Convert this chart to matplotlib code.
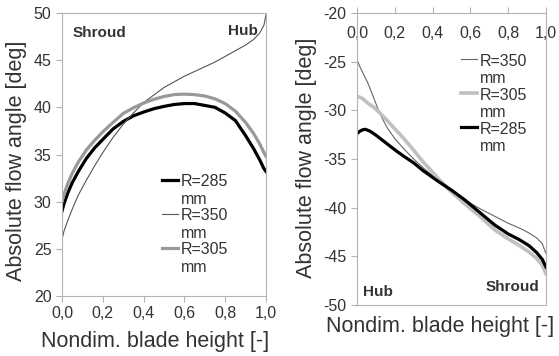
import matplotlib
matplotlib.use("Agg")
import matplotlib.pyplot as plt
from matplotlib.ticker import FuncFormatter

plt.rcParams["font.family"] = ["Liberation Sans", "DejaVu Sans"]
plt.rcParams["axes.unicode_minus"] = False

# Rotor inlet (left) - nondimensional blade height vs. absolute flow angle
in_h_285 = [0, 0.01, 0.03, 0.05, 0.08, 0.12, 0.16, 0.2, 0.25, 0.3, 0.35, 0.4, 0.45,
            0.5, 0.55, 0.6, 0.65, 0.7, 0.75, 0.8, 0.85, 0.9, 0.94, 0.97, 0.99, 1.0]
in_a_285 = [29.0, 29.8, 31.0, 32.0, 33.2, 34.6, 35.7, 36.6, 37.7, 38.5, 39.1, 39.5, 39.85,
            40.1, 40.3, 40.4, 40.4, 40.2, 40.0, 39.4, 38.6, 37.0, 35.6, 34.4, 33.5, 33.2]

in_h_350 = [0, 0.01, 0.025, 0.05, 0.08, 0.12, 0.16, 0.2, 0.25, 0.3, 0.35, 0.4, 0.45,
            0.5, 0.55, 0.6, 0.65, 0.7, 0.75, 0.8, 0.85, 0.9, 0.94, 0.97, 0.99, 1.0]
in_a_350 = [26.0, 26.9, 27.8, 29.2, 30.7, 32.3, 33.8, 35.2, 36.8, 38.2, 39.4, 40.5, 41.3,
            42.1, 42.7, 43.3, 43.8, 44.3, 44.8, 45.4, 46.0, 46.6, 47.2, 47.9, 48.7, 49.8]

in_h_305 = [0, 0.01, 0.03, 0.05, 0.08, 0.12, 0.16, 0.2, 0.25, 0.3, 0.35, 0.4, 0.45,
            0.5, 0.55, 0.6, 0.65, 0.7, 0.75, 0.8, 0.85, 0.9, 0.94, 0.97, 0.99, 1.0]
in_a_305 = [30.0, 30.8, 32.0, 33.0, 34.2, 35.5, 36.5, 37.4, 38.4, 39.35, 39.95, 40.45, 40.85,
            41.15, 41.35, 41.4, 41.35, 41.2, 40.9, 40.4, 39.6, 38.4, 37.2, 36.1, 35.2, 34.8]

# Rotor outlet (right)
out_h_350 = [0, 0.015, 0.03, 0.06, 0.09, 0.12, 0.16, 0.2, 0.25, 0.3, 0.35, 0.43,
             0.5, 0.57, 0.65, 0.73, 0.8, 0.86, 0.91, 0.95, 0.98, 1.0]
out_a_350 = [-24.8, -25.5, -26.1, -27.3, -28.8, -30.3, -31.8, -32.9, -34.0, -35.0, -35.9, -37.2,
             -38.2, -39.2, -40.1, -40.9, -41.6, -42.1, -42.6, -43.1, -43.7, -44.7]

out_h_305 = [0, 0.015, 0.03, 0.06, 0.09, 0.12, 0.16, 0.2, 0.25, 0.3, 0.35, 0.43,
             0.5, 0.57, 0.65, 0.73, 0.8, 0.86, 0.91, 0.95, 0.98, 1.0]
out_a_305 = [-28.6, -28.65, -28.8, -29.3, -29.7, -30.25, -31.05, -31.9, -32.95, -34.1, -35.3, -37.0,
             -38.4, -39.6, -40.9, -42.3, -43.2, -43.9, -44.55, -45.2, -45.9, -46.8]

out_h_285 = [0, 0.015, 0.03, 0.045, 0.07, 0.1, 0.13, 0.17, 0.21, 0.25, 0.3, 0.35, 0.43,
             0.5, 0.57, 0.65, 0.73, 0.8, 0.86, 0.91, 0.95, 0.98, 1.0]
out_a_285 = [-32.4, -32.15, -32.0, -31.95, -32.15, -32.55, -33.0, -33.6, -34.2, -34.75, -35.4, -36.2, -37.3,
             -38.2, -39.2, -40.5, -41.8, -42.7, -43.3, -43.9, -44.6, -45.3, -46.1]

x_ticks = [0, 0.2, 0.4, 0.6, 0.8, 1.0]
text_col = "#333333"
frame_col = "#b3b3b3"


def comma(v, pos):
    return f"{v:.1f}".replace(".", ",")


def style_axes(ax):
    for s in ax.spines.values():
        s.set_color(frame_col)
        s.set_linewidth(0.8)
    ax.tick_params(colors=frame_col, labelcolor=text_col, labelsize=11.5,
                   length=4, width=0.8, direction="out")
    ax.xaxis.set_major_formatter(FuncFormatter(comma))
    ax.set_xticks(x_ticks)
    ax.set_xlim(0, 1)


def add_legend(ax, anchor):
    leg = ax.legend(loc="upper left", bbox_to_anchor=anchor, frameon=False,
                    fontsize=11.5, handlelength=1.0, handletextpad=0.2,
                    labelspacing=0.1, borderpad=0, borderaxespad=0,
                    labelcolor=text_col)
    # put each line sample next to the first line of its two-line label
    for col in leg._legend_handle_box.get_children():
        for row in col.get_children():
            row.align = "top"
    return leg


fig = plt.figure(figsize=(5.59, 3.56), dpi=100)
ax1 = fig.add_axes([0.1109, 0.1685, 0.3649, 0.795])
ax2 = fig.add_axes([0.6386, 0.1433, 0.3381, 0.8202])

# left panel
ax1.plot(in_h_285, in_a_285, color="black", lw=2.3, label="R=285\nmm")
ax1.plot(in_h_350, in_a_350, color="#555555", lw=0.8, label="R=350\nmm")
ax1.plot(in_h_305, in_a_305, color="#999999", lw=2.3, label="R=305\nmm")
style_axes(ax1)
ax1.set_ylim(20, 50)
ax1.set_yticks(range(20, 51, 5))
ax1.set_xlabel("Nondim. blade height [-]", fontsize=15.5, color=text_col)
ax1.set_ylabel("Absolute flow angle [deg]", fontsize=15.5, color=text_col)
ax1.xaxis.set_label_coords(0.458, -0.124)
ax1.yaxis.set_label_coords(-0.17, 0.477)
ax1.text(0.05, 0.93, "Shroud", transform=ax1.transAxes, fontsize=11,
         fontweight="bold", color=text_col, va="center")
ax1.text(0.96, 0.935, "Hub", transform=ax1.transAxes, fontsize=11,
         fontweight="bold", color=text_col, va="center", ha="right")
add_legend(ax1, (0.49, 0.43))

# right panel
ax2.plot(out_h_350, out_a_350, color="#666666", lw=0.8, label="R=350\nmm")
ax2.plot(out_h_305, out_a_305, color="#c0c0c0", lw=2.6, label="R=305\nmm")
ax2.plot(out_h_285, out_a_285, color="black", lw=2.3, label="R=285\nmm")
style_axes(ax2)
ax2.set_ylim(-50, -20)
ax2.set_yticks(range(-50, -19, 5))
ax2.xaxis.set_ticks_position("top")
ax2.tick_params(axis="x", labeltop=True, labelbottom=False, pad=-24)
ax2.xaxis.set_label_position("bottom")
ax2.set_xlabel("Nondim. blade height [-]", fontsize=15.5, color=text_col)
ax2.set_ylabel("Absolute flow angle [deg]", fontsize=15.5, color=text_col)
ax2.xaxis.set_label_coords(0.44, -0.038)
ax2.yaxis.set_label_coords(-0.212, 0.505)
ax2.text(0.03, 0.045, "Hub", transform=ax2.transAxes, fontsize=11,
         fontweight="bold", color=text_col, va="center")
ax2.text(0.965, 0.06, "Shroud", transform=ax2.transAxes, fontsize=11,
         fontweight="bold", color=text_col, va="center", ha="right")
add_legend(ax2, (0.55, 0.86))

fig.savefig("out.png", dpi=100)
